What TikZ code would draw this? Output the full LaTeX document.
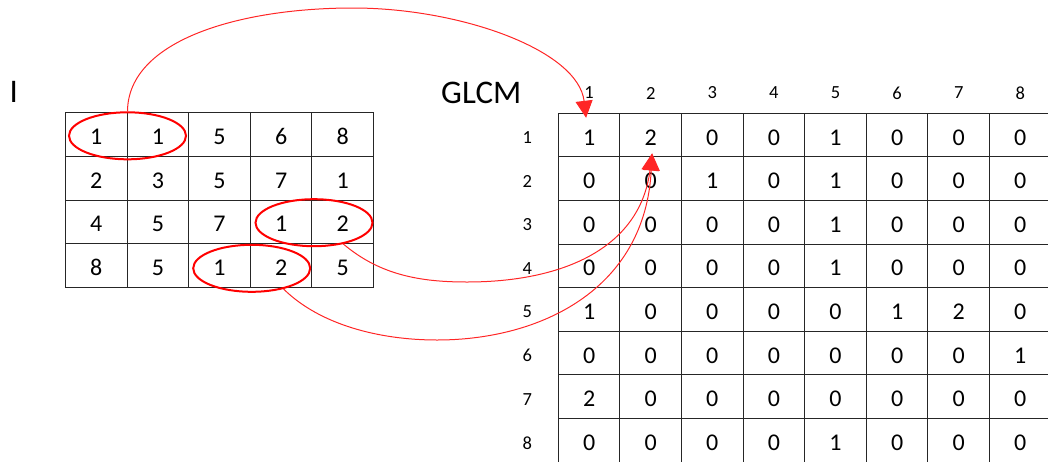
\documentclass[tikz,border=0pt]{standalone}
\usepackage{fontspec}
\setmainfont{Carlito}
\usetikzlibrary{arrows.meta,shapes.geometric}
\begin{document}
\begin{tikzpicture}[x=0.5pt,y=-0.5pt,
  cell/.style={draw=black!85, line width=0.5pt, minimum width=30.8pt,
    minimum height=21.8pt, inner sep=0pt, text height=10pt, text depth=0pt,
    font=\fontsize{12}{14}\selectfont},
  idx/.style={inner sep=0pt, font=\fontsize{9.25}{11}\selectfont},
  title/.style={inner sep=0pt, font=\fontsize{16.5}{20}\selectfont},
  pair/.style={ellipse, draw=red, line width=1pt, inner sep=0pt,
    minimum width=58.5pt, minimum height=23.5pt},
  link/.style={draw=red!85, line width=0.5pt,
    -{Triangle[length=8.5pt,width=8.5pt]}},
]
\useasboundingbox (0,0) rectangle (1048,461);

% input image I
\node[title] (lblI) at (13.8,92.3) {I};
\foreach \row [count=\r] in {{1,1,5,6,8},{2,3,5,7,1},{4,5,7,1,2},{8,5,1,2,5}}
  \foreach \v [count=\c] in \row
    \node[cell] (L-\r-\c) at ({65.5+61.6*(\c-0.5)}, {112.9+43.6*(\r-0.5)}) {\v};

% co-occurrence matrix
\node[title] (lblG) at (481.3,93.3) {GLCM};
\foreach \row [count=\r] in {{1,2,0,0,1,0,0,0},{0,0,1,0,1,0,0,0},{0,0,0,0,1,0,0,0},
    {0,0,0,0,1,0,0,0},{1,0,0,0,0,1,2,0},{0,0,0,0,0,0,0,1},{2,0,0,0,0,0,0,0},
    {0,0,0,0,1,0,0,0}}
  \foreach \v [count=\c] in \row
    \node[cell] (R-\r-\c) at ({558.3+61.6*(\c-0.5)}, {113.3+43.6*(\r-0.5)}) {\v};
\foreach \c in {1,...,8}
  \node[idx] (col-\c) at ({558.3+61.6*(\c-0.5)}, 93) {\c};
\foreach \r in {1,...,8}
  \node[idx] (row-\r) at (527.3, {113.3+43.6*(\r-0.5)+2.5}) {\r};

% highlighted pixel pairs
\node[pair] (e1) at (127.5,135.8) {};
\node[pair] (e2) at (314,222.7) {};
\node[pair] (e3) at (251.7,268.3) {};

% arrow targets
\coordinate (tip1) at ([xshift=-1.5pt,yshift=-2.5pt]R-1-1.north);
\coordinate (tip2) at ([xshift=0.7pt,yshift=2pt]R-1-2.south);

\draw[link] (e1.north) .. controls (128,40) and (240,8) .. (353,8)
  .. controls (460,8) and (578,50) .. (tip1);
\draw[link] (e2.-36) .. controls (380,275) and (420,282) .. (467,282)
  .. controls (560,282) and (640,250) .. (tip2);
\draw[link] (e3.-33) .. controls (320,325) and (380,340) .. (437,340)
  .. controls (540,340) and (645,290) .. (tip2);
\end{tikzpicture}
\end{document}
